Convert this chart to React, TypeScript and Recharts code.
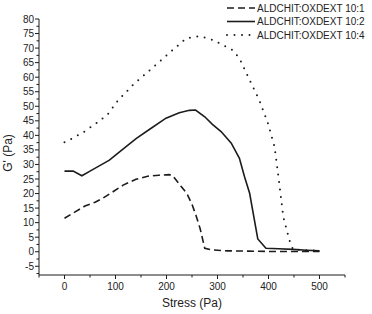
import React from "react";
import { LineChart, Line, XAxis, YAxis } from "recharts";

// Stress (Pa) and G' (Pa), one pair of arrays per sample
const stress101 = [0, 20, 40, 60, 75, 95, 115, 140, 165, 185, 205, 212, 228, 240, 250, 258, 266, 275, 290, 320, 360, 400, 450, 500];
const g101 = [11.5, 13.6, 15.7, 17.0, 18.4, 20.6, 22.9, 24.9, 26.0, 26.3, 26.5, 26.2, 22.6, 20.0, 16.3, 12.4, 7.9, 1.2, 0.6, 0.3, 0.2, 0.1, 0.1, 0.1];

const stress102 = [0, 17, 34, 50, 69, 88, 114, 141, 167, 199, 225, 245, 257, 275, 290, 307, 327, 343, 353, 363, 379, 395, 420, 448, 475, 500];
const g102 = [27.7, 27.7, 26.1, 27.7, 29.6, 31.5, 35.2, 39.0, 42.1, 45.9, 47.8, 48.6, 48.7, 46.4, 43.8, 41.3, 37.3, 32.1, 25.8, 20.1, 4.4, 1.2, 1.0, 0.8, 0.5, 0.3];

const stress104 = [0, 16, 39, 69, 85, 105, 134, 160, 186, 212, 239, 265, 291, 330, 343, 363, 382, 399, 412, 420, 429, 441, 448, 475, 500];
const g104 = [37.6, 39.0, 41.3, 45.0, 47.3, 52.0, 57.3, 61.3, 65.3, 69.3, 73.4, 74.1, 72.8, 69.3, 66.5, 59.0, 52.1, 44.1, 36.0, 25.0, 12.0, 4.0, 0.8, 0.5, 0.3];

const seriesNames = ["ALDCHIT:OXDEXT 10:1", "ALDCHIT:OXDEXT 10:2", "ALDCHIT:OXDEXT 10:4"];

const xTicks = [-50, 0, 50, 100, 150, 200, 250, 300, 350, 400, 450, 500, 550];
const yTicks = [-7.5, -5, -2.5, 0, 2.5, 5, 7.5, 10, 12.5, 15, 17.5, 20, 22.5, 25, 27.5, 30, 32.5, 35, 37.5, 40, 42.5, 45, 47.5, 50, 52.5, 55, 57.5, 60, 62.5, 65, 67.5, 70, 72.5, 75, 77.5, 80];

const toPoints = (xs: number[], ys: number[]) => xs.map((x, i) => ({ x, g: ys[i] }));

const FONT = "'Liberation Sans', Arial, sans-serif";
const INK = "#1c1c1c";
const dashes = ["7 4", undefined, "0 7.5"];

const XTick = ({ x, y, payload }: any) => {
  const major = payload.value % 100 === 0;
  return (
    <g>
      <line x1={x} x2={x} y1={y} y2={y + (major ? 4 : 2.5)} stroke={INK} />
      {major && (
        <text x={x} y={y + 15} textAnchor="middle" fontSize={10} fontFamily={FONT} fill="#222">
          {payload.value}
        </text>
      )}
    </g>
  );
};

const YTick = ({ x, y, payload }: any) => {
  const major = payload.value % 5 === 0;
  return (
    <g>
      <line x1={x} x2={x - (major ? 4 : 2.5)} y1={y} y2={y} stroke={INK} />
      {major && (
        <text x={x - 5} y={y + 3.5} textAnchor="end" fontSize={10} fontFamily={FONT} fill="#222">
          {payload.value}
        </text>
      )}
    </g>
  );
};

function LegendBox() {
  return (
    <svg width={150} height={45} style={{ position: "absolute", left: 222, top: 0 }}>
      {seriesNames.map((name, i) => (
        <g key={name}>
          <line
            x1={5}
            x2={33}
            y1={8 + i * 13.5}
            y2={8 + i * 13.5}
            stroke={INK}
            strokeWidth={i === 2 ? 2 : 1.6}
            strokeDasharray={dashes[i]}
            strokeLinecap={i === 2 ? "round" : "butt"}
          />
          <text x={35} y={11.5 + i * 13.5} fontSize={10} fontFamily={FONT} fill="#222">
            {name}
          </text>
        </g>
      ))}
    </svg>
  );
}

export default function App() {
  return (
    <div style={{ position: "absolute", left: 0, top: 0, width: 372, height: 314, background: "#fff" }}>
      <LineChart width={372} height={314} margin={{ top: 19, right: 27, bottom: 0, left: 0 }}>
        <XAxis
          type="number"
          dataKey="x"
          domain={[-50, 550]}
          ticks={xTicks}
          interval={0}
          height={39}
          tickSize={0}
          tickMargin={0}
          tickLine={false}
          tick={<XTick />}
          axisLine={{ stroke: INK }}
          allowDataOverflow
          label={{
            content: ({ viewBox }: any) => (
              <text
                x={viewBox.x + viewBox.width / 2}
                y={viewBox.y + 32}
                textAnchor="middle"
                fontSize={12}
                fontFamily={FONT}
                fill="#222"
              >
                Stress (Pa)
              </text>
            ),
          }}
        />
        <YAxis
          type="number"
          domain={[-8, 80]}
          ticks={yTicks}
          interval={0}
          width={39}
          tickSize={0}
          tickMargin={0}
          tickLine={false}
          tick={<YTick />}
          axisLine={{ stroke: INK }}
          allowDataOverflow
          label={{
            content: ({ viewBox }: any) => {
              const cx = 12;
              const cy = viewBox.y + viewBox.height / 2 + 6;
              return (
                <text
                  x={cx}
                  y={cy}
                  transform={`rotate(-90 ${cx} ${cy})`}
                  textAnchor="middle"
                  fontSize={12}
                  fontFamily={FONT}
                  fill="#222"
                >
                  G' (Pa)
                </text>
              );
            },
          }}
        />
        <Line
          data={toPoints(stress101, g101)}
          dataKey="g"
          name={seriesNames[0]}
          type="linear"
          stroke={INK}
          strokeWidth={1.6}
          strokeDasharray={dashes[0]}
          dot={false}
          isAnimationActive={false}
        />
        <Line
          data={toPoints(stress102, g102)}
          dataKey="g"
          name={seriesNames[1]}
          type="linear"
          stroke={INK}
          strokeWidth={1.6}
          dot={false}
          isAnimationActive={false}
        />
        <Line
          data={toPoints(stress104, g104)}
          dataKey="g"
          name={seriesNames[2]}
          type="linear"
          stroke={INK}
          strokeWidth={2}
          strokeLinecap="round"
          strokeDasharray={dashes[2]}
          dot={false}
          isAnimationActive={false}
        />
      </LineChart>
      <LegendBox />
    </div>
  );
}
